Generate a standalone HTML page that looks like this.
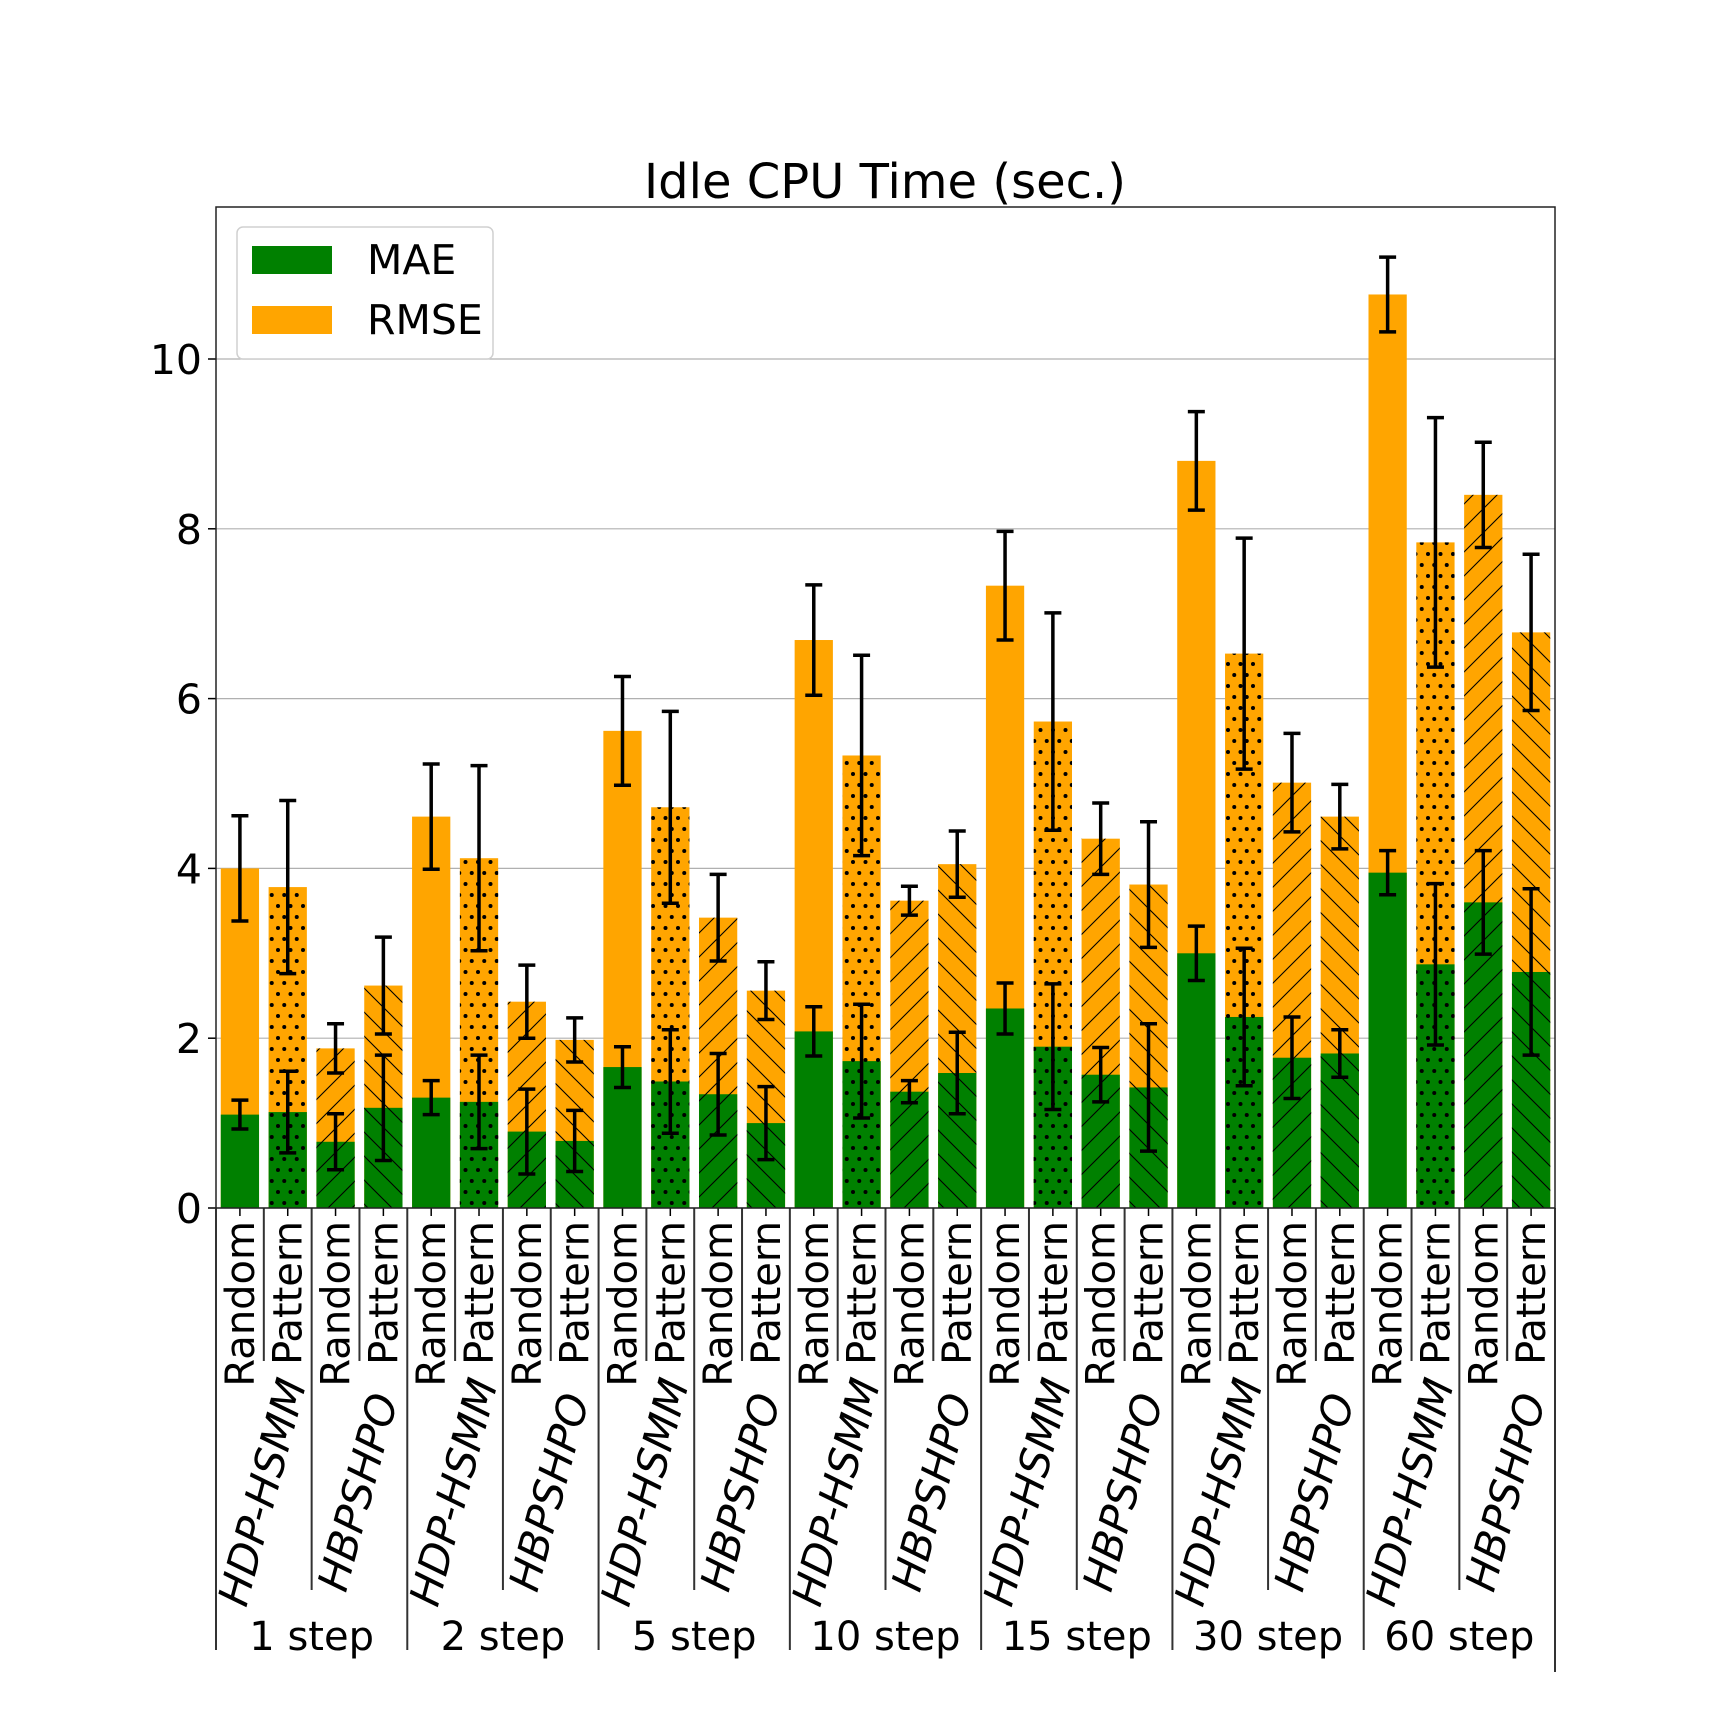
<!DOCTYPE html>
<html><head><meta charset="utf-8"><style>
html,body{margin:0;padding:0;background:#fff;}
svg{display:block;font-family:"DejaVu Sans","Liberation Sans",sans-serif;}
</style></head><body>
<svg id="chart" width="1728" height="1728" viewBox="0 0 1728 1728" xmlns="http://www.w3.org/2000/svg">
<defs>
<pattern id="hDots" patternUnits="userSpaceOnUse" width="12.5" height="22">
<circle cx="3" cy="4" r="2" fill="#000"/><circle cx="9.25" cy="15" r="2" fill="#000"/>
</pattern>
<pattern id="hFwd" patternUnits="userSpaceOnUse" width="24" height="24">
<path d="M-6,30 L30,-6 M-6,6 L6,-6 M18,30 L30,18" stroke="#000" stroke-width="1.1"/>
</pattern>
<pattern id="hBack" patternUnits="userSpaceOnUse" width="24" height="24">
<path d="M-6,-6 L30,30 M-6,18 L6,30 M18,-6 L30,6" stroke="#000" stroke-width="1.1"/>
</pattern>
</defs>
<g id="grid"></g>
<g id="bars"></g>
<g id="errs"></g>
<g id="axes"></g>
<text x="885" y="198" font-size="48" text-anchor="middle">Idle CPU Time (sec.)</text>
<g>
<rect x="237" y="227" width="256" height="132" rx="6" fill="#fff" fill-opacity="0.8" stroke="#d0d0d0" stroke-width="1.5"/>
<rect x="252" y="246" width="80" height="28" fill="#008000"/>
<text x="367" y="274" font-size="41">MAE</text>
<rect x="252" y="306" width="80" height="28" fill="#FFA500"/>
<text x="367" y="334" font-size="41">RMSE</text>
</g>
</svg>
<script>
const steps = ["1 step","2 step","5 step","10 step","15 step","30 step","60 step"];
const methods = ["HDP-HSMM","HBPSHPO"];
const modes = ["Random","Pattern"];
const rmse = [4.0,3.78,1.88,2.62, 4.61,4.12,2.43,1.98, 5.62,4.72,3.42,2.56, 6.69,5.33,3.62,4.05, 7.33,5.73,4.35,3.81, 8.8,6.53,5.01,4.61, 10.76,7.84,8.4,6.78];
const rmseErr = [0.62,1.02,0.29,0.57, 0.62,1.09,0.43,0.26, 0.64,1.13,0.51,0.34, 0.65,1.18,0.17,0.39, 0.64,1.28,0.42,0.74, 0.58,1.36,0.58,0.38, 0.44,1.47,0.62,0.92];
const mae = [1.1,1.13,0.78,1.18, 1.3,1.25,0.9,0.79, 1.66,1.49,1.34,1.0, 2.08,1.73,1.37,1.59, 2.35,1.9,1.57,1.42, 3.0,2.25,1.77,1.82, 3.95,2.87,3.6,2.78];
const maeErr = [0.17,0.48,0.33,0.62, 0.2,0.55,0.5,0.36, 0.24,0.61,0.48,0.43, 0.29,0.67,0.13,0.48, 0.3,0.74,0.32,0.75, 0.32,0.81,0.48,0.28, 0.26,0.95,0.61,0.98];
const yTicks = [0,2,4,6,8,10];

const NS="http://www.w3.org/2000/svg";
const L=216, R=1555, T=207, B=1208, Y0=1208, PX=84.9;
const N=rmse.length, pitch=(R-L)/N, bw=pitch*0.8;
function y(v){return Y0 - v*PX;}
function xc(i){return L + (i+0.5)*pitch;}
function mk(tag,attrs,parent){const e=document.createElementNS(NS,tag);for(const k in attrs)e.setAttribute(k,attrs[k]);parent.appendChild(e);return e;}
const grid=document.getElementById('grid'),bars=document.getElementById('bars'),errs=document.getElementById('errs'),axes=document.getElementById('axes');
const fills=[null,'url(#hDots)','url(#hFwd)','url(#hBack)'];

yTicks.forEach(t=>{
  const g=mk('line',{x1:L,x2:R,y1:y(t),y2:y(t),stroke:'#b0b0b0','stroke-width':1.2},grid);
  
  
  const tk=mk('line',{x1:L-8,x2:L,y1:y(t),y2:y(t),stroke:'#000','stroke-width':1.5},axes);
  
  
  const tl=mk('text',{x:L-14,y:y(t)+15,'font-size':41,'text-anchor':'end'},axes);
  tl.textContent=t;
  
  
});

for(let i=0;i<N;i++){
  const x=xc(i)-bw/2, pat=fills[i%4];
  const r=mk('rect',{x:x,y:y(rmse[i]),width:bw,height:rmse[i]*PX,fill:'#FFA500'},bars);
  
  
  if(pat){const rp=mk('rect',{x:x,y:y(rmse[i]),width:bw,height:rmse[i]*PX,fill:pat},bars);
    
    }
  const m=mk('rect',{x:x,y:y(mae[i]),width:bw,height:mae[i]*PX,fill:'#008000'},bars);
  
  
  if(pat){const mp=mk('rect',{x:x,y:y(mae[i]),width:bw,height:mae[i]*PX,fill:pat},bars);
    
    }
  [[rmse[i],rmseErr[i],'rmse'],[mae[i],maeErr[i],'mae']].forEach(([v,e,n])=>{
    const g=mk('g',{stroke:'#000','stroke-width':3.5},errs);
    
    
    const cx=xc(i);
    mk('line',{x1:cx,x2:cx,y1:y(v-e),y2:y(v+e)},g);
    mk('line',{x1:cx-8.5,x2:cx+8.5,y1:y(v-e),y2:y(v-e)},g);
    mk('line',{x1:cx-8.5,x2:cx+8.5,y1:y(v+e),y2:y(v+e)},g);
  });
  const tk=mk('line',{x1:xc(i),x2:xc(i),y1:B,y2:B+8,stroke:'#000','stroke-width':1.5},axes);
  
  
  const lb=mk('text',{'font-size':40,'text-anchor':'end',transform:`translate(${xc(i)+14},${B+13}) rotate(-90)`},axes);
  lb.setAttribute('x',0);lb.setAttribute('y',0);
  lb.textContent=modes[i%2];
  
  
}
for(let k=0;k<=N;k+=1){
  const x=L+k*pitch;
  let end; if(k%4===0) end=1650; else if(k%2===0) end=1590; else end=1361;
  if(k===N) end=1672;
  const ln=mk('line',{x1:x,x2:x,y1:B,y2:end,stroke:'#333','stroke-width':2},axes);
  
  
}
for(let j=0;j<N/2;j++){
  const cx=L+(j*2+1)*pitch - 2;
  const t=mk('text',{'font-size':42,'font-style':'italic','text-anchor':'middle',transform:`translate(${cx},1492) rotate(-75)`},axes);
  t.setAttribute('x',0);t.setAttribute('y',15);
  t.textContent=methods[j%2];
  
  
}
steps.forEach((s,g)=>{
  const t=mk('text',{x:L+(g*4+2)*pitch,y:1650,'font-size':40,'text-anchor':'middle'},axes);
  t.textContent=s;
  
  
});
const fr=mk('rect',{x:L,y:T,width:R-L,height:B-T,fill:'none',stroke:'#222','stroke-width':1.5},axes);


</script>
</body></html>
